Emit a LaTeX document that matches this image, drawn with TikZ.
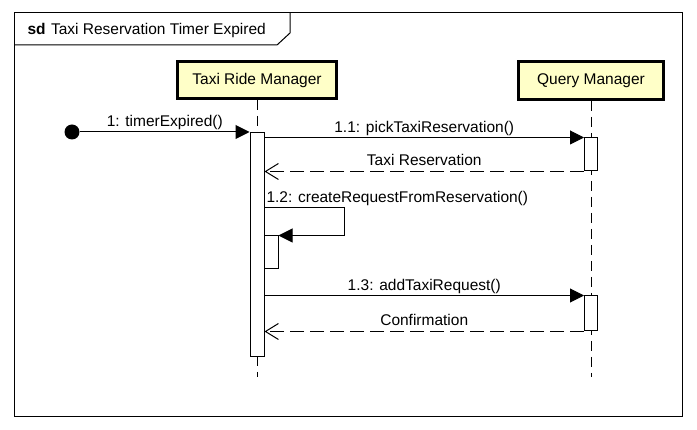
\documentclass[tikz,border=0pt]{standalone}
\usepackage{fontspec}
\setmainfont{Liberation Sans}
\usetikzlibrary{arrows.meta,calc}
\definecolor{headfill}{RGB}{255,255,200}
\begin{document}
\begin{tikzpicture}[x=1pt,y=-1pt, font=\fontsize{15.5}{18}\selectfont, line width=1pt,
 head/.style={draw, line width=3pt, fill=headfill, minimum width=159pt, minimum height=37pt, inner sep=0pt},
 act/.style={draw, fill=white, minimum width=14pt, inner sep=0pt},
 life/.style={dash pattern=on 10pt off 6pt},
 call/.style={-{Triangle[length=14pt,width=14pt]}},
 reply/.style={dash pattern=on 14pt off 6pt, -{Straight Barb[length=13pt,width=16pt]}},
 lbl/.style={above, inner sep=1.5pt},
 rlbl/.style={above, inner sep=5pt}]
\useasboundingbox (0,0) rectangle (697,430);
\fill[white] (0,0) rectangle (697,430);
% frame
\draw (14,13) rectangle (682,417);
\node[anchor=west, inner sep=0pt] (title) at (27,30) {\textbf{sd}\hspace{0.35em}Taxi Reservation Timer Expired};
\draw (14,45) -- (277,45) -- (290,33) -- (290,13);
% lifeline heads
\node[head] (trm) at (257,80) {Taxi Ride Manager};
\node[head, minimum width=145pt, minimum height=38pt] (qm) at (591,80.5) {Query Manager};
\coordinate (trmEnd) at (257,377);
\coordinate (qmEnd) at (591,377);
\draw[life] (trm) -- (trmEnd);
\draw[life] (qm) -- (qmEnd);
% activations
\node[act, minimum height=224pt] (a1) at (257,245) {};
\node[act, minimum width=13pt, minimum height=33pt] (q1) at (591,154.5) {};
\node[act, minimum height=33pt] (a2) at (271,252.5) {};
\node[act, minimum width=13pt, minimum height=35pt] (q2) at (591,313.5) {};
% found message
\node[circle, fill, inner sep=0pt, minimum size=15pt] (start) at (72,132) {};
\draw[call] (start) -- (start -| a1.west) node[midway, lbl] {1: timerExpired()};
% messages
\draw[call] (q1.north west -| a1.east) -- (q1.north west) node[midway, lbl] {1.1: pickTaxiReservation()};
\draw[reply] (q1.south west) -- (q1.south west -| a1.east) node[midway, rlbl] {Taxi Reservation};
\draw[call] ($(a1.north east)+(0,75)$) node[anchor=south west, inner sep=1.5pt] {1.2: createRequestFromReservation()} -- ++(80,0) |- (a2.north east);
\draw[call] (q2.north west -| a1.east) -- (q2.north west) node[midway, lbl] {1.3: addTaxiRequest()};
\draw[reply] (q2.south west) -- (q2.south west -| a1.east) node[midway, rlbl] {Confirmation};
\end{tikzpicture}
\end{document}
